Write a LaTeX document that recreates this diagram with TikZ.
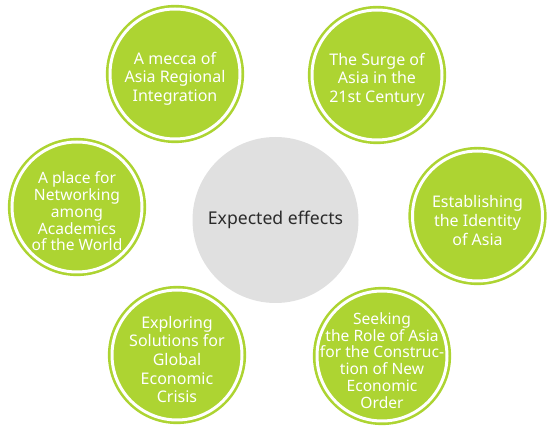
\documentclass[tikz,border=0pt]{standalone}
\usepackage{fontspec}
\setmainfont{Noto Sans}
\definecolor{lime}{HTML}{ADD432}
\definecolor{cgray}{HTML}{E0E0E0}
\definecolor{ctext}{HTML}{2B2B2B}
\tikzset{
  effect/.style={circle, fill=lime, draw=lime, double=white, double distance=3pt,
    line width=2.6pt, minimum size=130pt, inner sep=0pt},
  efftext/.style={yshift=-4.5pt, align=center, text=white, inner sep=0pt,
    font=\fontsize{16}{18.6}\selectfont},
  tighttext/.style={efftext, font=\fontsize{15.6}{16.8}\selectfont},
  hub/.style={circle, fill=cgray, minimum size=166pt, inner sep=0pt, text=ctext,
    font=\fontsize{17.6}{20}\selectfont}
}
\begin{document}
\begin{tikzpicture}[x=1pt,y=-1pt]
\useasboundingbox (0,0) rectangle (555,430);
\node[hub] (hub) at (275.5,220) {Expected effects};
\node[effect, label={[efftext]center:A mecca of\\Asia Regional\\Integration}] (tl) at (175,74) {};
\node[effect, label={[efftext]center:The Surge of\\Asia in the\\21st Century}] (tr) at (377,75) {};
\node[effect, label={[tighttext]center:A place for\\Networking\\among\\Academics\\of the World}] (l) at (77,207) {};
\node[effect, label={[efftext]center:Establishing\\the Identity\\of Asia}] (r) at (477.5,216) {};
\node[effect, label={[efftext]center:Exploring\\Solutions for\\Global\\Economic\\Crisis}] (bl) at (177,355) {};
\node[effect, label={[tighttext]center:Seeking\\the Role of Asia\\for the Construc-\\tion of New\\Economic\\Order}] (br) at (382,356) {};
\end{tikzpicture}
\end{document}
